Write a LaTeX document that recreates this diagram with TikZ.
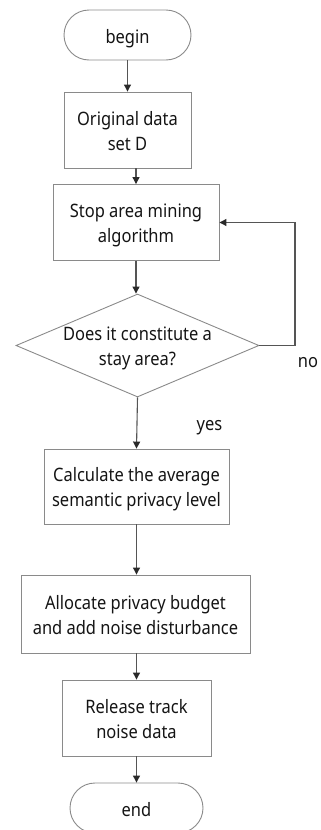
\documentclass[tikz,border=0pt]{standalone}
\usepackage{fontspec}
\setmainfont{Noto Sans}[FakeStretch=0.89]
\usetikzlibrary{arrows.meta,shapes.geometric}
\definecolor{boxline}{HTML}{8A8A8A}
\definecolor{conn}{HTML}{555555}
\definecolor{tipc}{HTML}{2A2A2A}
\definecolor{txt}{HTML}{141414}
\begin{document}
\begin{tikzpicture}[x=1pt,y=-1pt,
  every node/.style={font=\fontsize{18.5}{25}\selectfont, text=txt, align=center},
  twoline/.style={text height=40pt, text depth=0pt},
  procbox/.style={draw=boxline, line width=0.9pt, rectangle, inner sep=0pt, twoline},
  termbox/.style={draw=boxline, line width=0.9pt, rectangle, rounded corners=25pt, inner sep=0pt, minimum height=50pt, text height=17pt, text depth=0pt},
  decbox/.style={draw=boxline, line width=0.9pt, diamond, inner sep=0pt, minimum width=243pt, minimum height=103pt},
  flow/.style={draw=conn, line width=1.1pt, -{Triangle[length=7pt,width=7pt,color=tipc]}},
  lbl/.style={anchor=base}
]
\useasboundingbox (0,0) rectangle (321,830);
\clip (0,0) rectangle (321,830);
\node[termbox, minimum width=127pt] (begin) at (127.5,35) {begin};
\node[procbox, minimum width=127pt, minimum height=76pt] (b1) at (127.5,130) {Original data\\set D};
\node[procbox, minimum width=166pt, minimum height=76pt] (b2) at (136,222.5) {Stop area mining\\algorithm};
\node[decbox] (dec) at (137.5,345.5) {};
\node[twoline, inner sep=0pt] (dtext) at (137.5,345.5) {Does it constitute a\\stay area?};
\node[procbox, minimum width=185pt, minimum height=75pt] (b3) at (136.5,486.5) {Calculate the average\\semantic privacy level};
\node[procbox, minimum width=229pt, minimum height=78pt] (b4) at (135.5,614) {Allocate privacy budget\\and add noise disturbance};
\node[procbox, minimum width=149pt, minimum height=76pt] (b5) at (136.5,718) {Release track\\noise data};
\node[termbox, minimum width=133pt] (end) at (136.5,808) {end};
\coordinate (c1) at (295,345.5);
\coordinate (c2) at (295,222.5);
\node[lbl] (no) at (308,367) {no};
\node[lbl] (yes) at (209.5,430) {yes};
\draw[flow] (begin.south) -- (b1.north);
\draw[flow] (b1.south -| b2.north) -- (b2.north);
\draw[flow] (b2.south) -- (b2.south |- dec.north);
\draw[flow] (dec.south) -- (b3.north);
\draw[flow] (b3.south) -- (b4.north -| b3.south);
\draw[flow] (b4.south -| b5.north) -- (b5.north);
\draw[flow] (b5.south) -- (end.north);
\draw[flow] (dec.east) -- (c1) -- (c2) -- (b2.east);
\end{tikzpicture}
\end{document}
